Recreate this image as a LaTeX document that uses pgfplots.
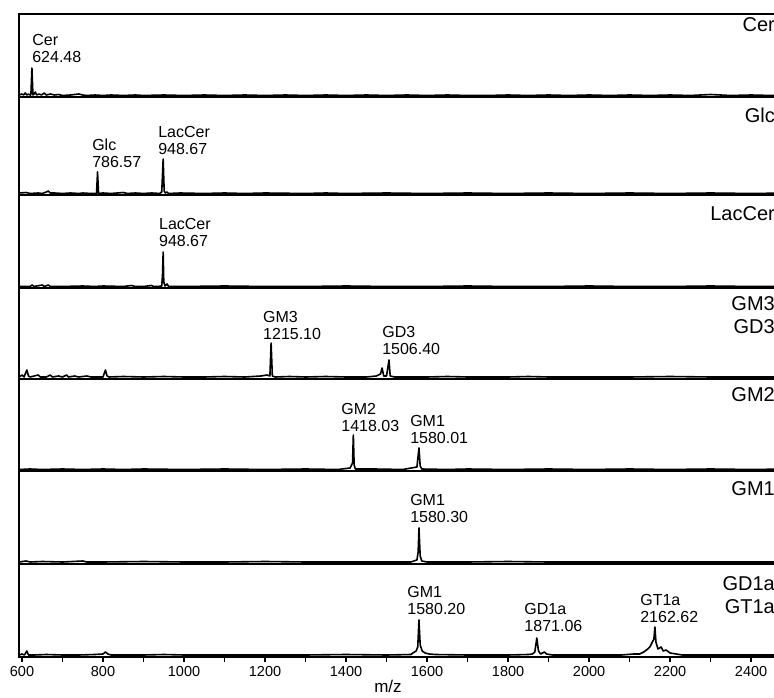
\documentclass[border=0pt]{standalone}
\usepackage{pgfplots}
\pgfplotsset{compat=1.18}
\usepackage{fontspec}
\setmainfont{Liberation Sans}
\newcommand{\pk}{\fontsize{16}{17}\selectfont}
\newcommand{\pn}{\fontsize{20}{23}\selectfont}
\begin{document}
\begin{tikzpicture}[x=1pt,y=1pt]
\pgfplotsset{
  panel/.style={
    scale only axis, width=771pt, xmin=592.6, xmax=2496, ymin=0,
    anchor=south west, xtick=\empty, ytick=\empty,
    axis line style={line width=2pt},
  },
  spec/.style={black, line width=1.6pt, line join=round, mark=none},
}
% Panel 1: Cer
\begin{axis}[panel, at={(19pt,600pt)}, height=83pt, ymax=83]
\addplot[spec] table {
593 2
600 3
604 2
608 4
612 2
616 3
620 2
622 2
624.5 29
627 2
630 3
633 5
636 2
642 3
648 2
655 4
660 2
670 3
680 2
690 2.5
700 1.5
720 2
740 3
750 2
760 1.5
780 2
800 1.5
820 2
850 1.5
880 2
900 1.5
950 2
1000 1.5
1050 2
1100 1.5
1150 2
1200 1.5
1250 2
1300 1.5
1350 2
1400 1.5
1450 2
1500 1.5
1550 2
1600 1.5
1650 2
1700 1.5
1750 1.5
1800 2
1850 1.5
1900 2
1950 1.5
2000 2
2050 1.5
2100 2
2150 1.5
2200 2
2250 1.5
2300 2.5
2350 1.5
2400 2
2450 1.5
2496 1.5
};
\node[anchor=south west, align=left, font=\pk, inner sep=0pt] at (axis cs:625,34) {Cer\\624.48};
\end{axis}
% Panel 2: Glc
\begin{axis}[panel, at={(19pt,502pt)}, height=98pt, ymax=98]
\addplot[spec] table {
593 2
610 2.5
620 1.5
640 2
650 1.5
660 3
665 4
670 2
680 2
700 1.5
720 2
740 1.5
750 2
770 1.5
784 1.5
786.5 23
789 1.5
800 2
820 1.5
850 2.5
860 1.5
880 2
900 1.5
920 2
940 1.5
945 3
948.5 36
951 4
954 2
958 3
962 1.5
990 2
1050 1.5
1100 2
1150 1.5
1200 2
1300 1.5
1350 2
1400 1.5
1500 2
1600 1.5
1700 2
1800 1.5
1900 2
2000 1.5
2100 2
2200 1.5
2300 2
2400 1.5
2496 2
};
\node[anchor=south west, align=left, font=\pk, inner sep=0pt] at (axis cs:773,27) {Glc\\786.57};
\node[anchor=south west, align=left, font=\pk, inner sep=0pt] at (axis cs:936,40) {LacCer\\948.67};
\end{axis}
% Panel 3: LacCer
\begin{axis}[panel, at={(19pt,409pt)}, height=93pt, ymax=93]
\addplot[spec] table {
593 1.5
620 1.5
625 3
630 1.5
650 3
655 1.5
665 3
670 1.5
700 1.5
750 2
780 1.5
800 2
850 1.5
870 2.5
880 1.5
900 1.5
920 2.5
925 1.5
935 1.5
945 2
947 14
948.5 36
950 6
953 2
958 4
962 1.5
1000 1.5
1100 2
1200 1.5
1300 1.5
1400 2
1500 1.5
1600 1.5
1700 2
1800 1.5
1900 1.5
2000 2
2100 1.5
2200 1.5
2300 2
2400 1.5
2496 1.5
};
\node[anchor=south west, align=left, font=\pk, inner sep=0pt] at (axis cs:938,41) {LacCer\\948.67};
\end{axis}
% Panel 4: GM3 GD3
\begin{axis}[panel, at={(19pt,318pt)}, height=91pt, ymax=91]
\addplot[spec] table {
593 2
600 4
605 2
612 9
616 3
620 2
640 4
645 2
660 2
670 4
675 2
690 3
700 2
710 4
715 2
730 3
740 2
760 3
770 2
800 2
806 9
810 3
815 2
850 2.5
900 2
950 2.5
1000 2
1050 2
1100 2.5
1150 2
1190 3
1205 4
1212 3
1215 36
1218 3
1225 2
1260 2.5
1300 2
1350 2.5
1400 2
1450 2
1475 3
1485 5
1489 11
1493 3
1500 3
1506 19
1509 3
1520 2
1550 2
1600 2
1650 2.5
1700 2
1800 2
1850 2.5
1900 2
2000 2
2100 2
2200 2.5
2300 2
2400 2
2496 2
};
\node[anchor=south west, align=left, font=\pk, inner sep=0pt] at (axis cs:1195,39) {GM3\\1215.10};
\node[anchor=south west, align=left, font=\pk, inner sep=0pt] at (axis cs:1489,24) {GD3\\1506.40};
\end{axis}
% Panel 5: GM2
\begin{axis}[panel, at={(19pt,226pt)}, height=92pt, ymax=92]
\addplot[spec] table {
593 1.5
620 2
650 1.5
700 2
750 1.5
800 2
850 1.5
900 2
1000 1.5
1100 2
1200 1.5
1300 2
1380 1.5
1410 3
1416 8
1418 36
1420 6
1423 2
1470 2
1540 1.5
1575 4
1580 23
1583 5
1587 2
1650 1.5
1700 2
1800 1.5
1900 2
2000 1.5
2100 2
2200 1.5
2300 2
2400 1.5
2496 2
};
\node[anchor=south west, align=left, font=\pk, inner sep=0pt] at (axis cs:1388,39) {GM2\\1418.03};
\node[anchor=south west, align=left, font=\pk, inner sep=0pt] at (axis cs:1558,27) {GM1\\1580.01};
\end{axis}
% Panel 6: GM1
\begin{axis}[panel, at={(19pt,133pt)}, height=93pt, ymax=93]
\addplot[spec] table {
593 2
610 3
620 2
650 2.5
700 2
750 3
760 2
800 2
900 2.5
1000 2
1100 2
1200 2.5
1300 2
1400 2
1500 2
1560 2
1575 4
1578 12
1580 36
1583 8
1587 3
1600 2
1700 2
1800 2.5
1900 2
2000 2
2100 2
2200 2
2300 2
2400 2
2496 2
};
\node[anchor=south west, align=left, font=\pk, inner sep=0pt] at (axis cs:1558,41) {GM1\\1580.30};
\end{axis}
% Panel 7: GD1a GT1a
\begin{axis}[panel, at={(19pt,40pt)}, height=93pt, ymax=93,
  xtick={600,800,...,2400}, minor x tick num=1, xtick pos=left,
  tick align=outside, major tick length=5pt, minor tick length=5pt,
  every tick/.style={black, line width=1.5pt},
  /pgf/number format/assume math mode=true, /pgf/number format/1000 sep={},
  xticklabel style={font=\fontsize{14.5}{16}\selectfont, inner sep=0pt, yshift=-4pt}]
\addplot[spec] table {
593 2
600 3
606 2
612 6
616 2
630 2
660 2.5
700 2
740 2
780 2.5
800 3
806 5
812 3
820 2
900 2
950 2.5
1000 2
1100 2
1200 2
1300 2
1400 2.5
1500 2
1560 2.5
1565 4
1573 6
1577 10
1580 37
1583 12
1588 6
1595 4
1605 3
1620 2.5
1700 2
1800 2
1850 2.5
1860 3
1866 5
1871 19
1875 6
1880 3
1890 5
1895 3
1910 2
2000 2
2080 2
2110 3
2125 3
2135 5
2145 8
2150 10
2155 14
2160 18
2162.5 30
2165 15
2170 8
2178 10
2183 6
2190 7
2200 4
2215 3
2230 2
2300 2
2400 2
2496 2
};
\node[anchor=south west, align=left, font=\pk, inner sep=0pt] at (axis cs:1551,42) {GM1\\1580.20};
\node[anchor=south west, align=left, font=\pk, inner sep=0pt] at (axis cs:1840,25) {GD1a\\1871.06};
\node[anchor=south west, align=left, font=\pk, inner sep=0pt] at (axis cs:2126,34) {GT1a\\2162.62};
\end{axis}
% Panel names
\node[anchor=base east, font=\pn, inner sep=0pt] at (775,665) {Cer};
\node[anchor=base east, font=\pn, inner sep=0pt] at (775,574) {Glc};
\node[anchor=base east, font=\pn, inner sep=0pt] at (775,476) {LacCer};
\node[anchor=base east, font=\pn, inner sep=0pt] at (775,386) {GM3};
\node[anchor=base east, font=\pn, inner sep=0pt] at (775,363) {GD3};
\node[anchor=base east, font=\pn, inner sep=0pt] at (775,295) {GM2};
\node[anchor=base east, font=\pn, inner sep=0pt] at (775,201) {GM1};
\node[anchor=base east, font=\pn, inner sep=0pt] at (775,107) {GD1a};
\node[anchor=base east, font=\pn, inner sep=0pt] at (775,84) {GT1a};
\node[anchor=base, font=\fontsize{17}{19}\selectfont, inner sep=0pt] at (388,5) {m/z};
\pgfresetboundingbox
\useasboundingbox (0,0) rectangle (774,697);
\end{tikzpicture}
\end{document}
